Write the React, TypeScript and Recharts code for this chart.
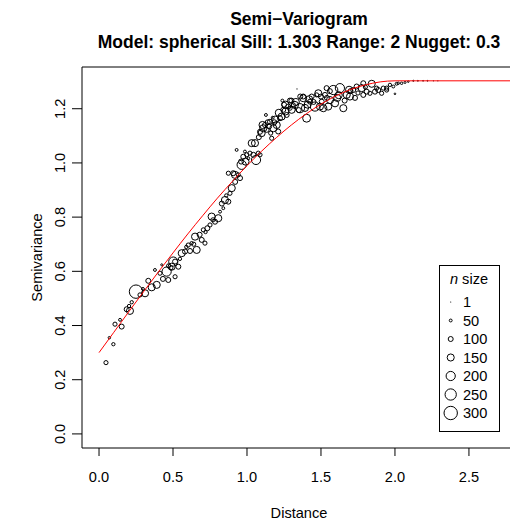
import { ReferenceArea, Scatter, ScatterChart, XAxis, YAxis } from 'recharts'

document.body.style.margin = '0'

const FONT = '"Liberation Sans", Arial, Helvetica, sans-serif'

const titleLines = ['Semi\u2212Variogram', 'Model: spherical Sill: 1.303 Range: 2 Nugget: 0.3']

// empirical semivariogram: lag distance, semivariance, number of pairs
const distance = [
  0.047, 0.070, 0.097, 0.108, 0.142, 0.153, 0.187, 0.203, 0.221, 0.209,
  0.250, 0.277, 0.311, 0.297, 0.333, 0.356, 0.378, 0.390, 0.412, 0.424,
  0.432, 0.457, 0.468, 0.486, 0.502, 0.514, 0.536, 0.547, 0.559, 0.581,
  0.603, 0.626, 0.615, 0.649, 0.660, 0.694, 0.705, 0.716, 0.732, 0.750,
  0.761, 0.784, 0.806, 0.818, 0.840, 0.851, 0.874, 0.885, 0.897, 0.874,
  0.907, 0.919, 0.941, 0.953, 0.930, 0.964, 0.975, 0.986, 0.998, 1.009,
  1.020, 1.032, 1.043, 1.054, 1.061, 1.076, 1.088, 1.099, 1.110, 1.122,
  1.133, 1.128, 1.155, 1.167, 1.174, 1.178, 1.201, 1.211, 1.223, 1.234,
  1.239, 1.245, 1.268, 1.279, 1.291, 1.302, 1.313, 1.324, 1.338, 1.358,
  1.380, 1.403, 1.392, 1.426, 1.437, 1.459, 1.471, 1.482, 1.505, 1.516,
  1.527, 1.538, 1.549, 1.561, 1.583, 1.595, 1.628, 1.651, 1.674, 1.696,
  1.718, 1.741, 1.750, 1.775, 1.786, 1.809, 1.831, 1.843, 1.865, 1.876,
  1.887, 1.910, 1.921, 1.944, 1.966, 1.989, 2.000, 2.011, 2.022, 2.045,
  2.068, 2.090, 2.124, 2.155, 2.190, 2.220, 2.260, 2.290,
  1.140, 1.190, 1.250, 1.330, 1.360, 1.420, 1.450, 1.500, 1.610, 1.700,
  1.160, 1.260, 1.300, 1.350, 1.410, 1.540, 1.660, 1.800, 0.960, 1.080,
  0.514, 0.491, 0.470, 0.590, 0.640, 0.680, 0.720, 0.770, 0.830, 0.860,
  0.920, 0.990, 1.088, 1.105, 1.150, 1.185, 1.215, 1.260, 1.290, 1.380,
  1.493, 1.560, 1.620, 1.690, 1.786, 1.944, 1.730,
]
const semivariance = [
  0.263, 0.355, 0.331, 0.405, 0.421, 0.396, 0.460, 0.472, 0.486, 0.454,
  0.525, 0.513, 0.519, 0.535, 0.565, 0.541, 0.605, 0.550, 0.593, 0.624,
  0.572, 0.599, 0.568, 0.613, 0.636, 0.580, 0.617, 0.646, 0.667, 0.673,
  0.697, 0.704, 0.675, 0.728, 0.679, 0.716, 0.753, 0.704, 0.759, 0.771,
  0.802, 0.783, 0.796, 0.820, 0.833, 0.863, 0.857, 0.888, 0.907, 0.962,
  0.962, 0.956, 0.956, 0.944, 1.048, 0.993, 1.023, 1.042, 1.030, 1.017,
  1.036, 1.073, 1.030, 1.073, 1.011, 1.036, 1.030, 1.110, 1.128, 1.140,
  1.122, 1.177, 1.152, 1.091, 1.167, 1.128, 1.140, 1.116, 1.165, 1.171,
  1.230, 1.196, 1.177, 1.208, 1.202, 1.196, 1.214, 1.214, 1.273, 1.202,
  1.239, 1.165, 1.203, 1.226, 1.245, 1.208, 1.251, 1.257, 1.226, 1.202,
  1.251, 1.276, 1.208, 1.232, 1.269, 1.220, 1.276, 1.202, 1.251, 1.245,
  1.269, 1.282, 1.258, 1.276, 1.251, 1.263, 1.257, 1.292, 1.263, 1.276,
  1.269, 1.257, 1.276, 1.276, 1.288, 1.282, 1.255, 1.292, 1.294, 1.294,
  1.297, 1.300, 1.303, 1.303, 1.303, 1.303, 1.303, 1.303,
  1.150, 1.160, 1.215, 1.225, 1.245, 1.235, 1.225, 1.245, 1.240, 1.265,
  1.110, 1.190, 1.230, 1.195, 1.215, 1.240, 1.230, 1.280, 1.005, 1.095,
  0.636, 0.617, 0.620, 0.690, 0.700, 0.735, 0.745, 0.790, 0.850, 0.880,
  0.930, 1.005, 1.115, 1.140, 1.135, 1.150, 1.185, 1.215, 1.230, 1.245,
  1.208, 1.265, 1.250, 1.270, 1.294, 1.269, 1.240,
]
const pairCount = [
  80, 40, 60, 80, 50, 100, 100, 60, 60, 150,
  300, 80, 150, 50, 100, 150, 50, 150, 80, 30,
  100, 200, 100, 80, 200, 80, 100, 60, 150, 100,
  80, 60, 100, 150, 150, 100, 80, 80, 100, 80,
  150, 100, 150, 50, 50, 150, 100, 80, 150, 80,
  100, 150, 80, 100, 50, 200, 100, 50, 80, 50,
  80, 150, 100, 150, 200, 80, 80, 150, 150, 100,
  100, 50, 100, 80, 50, 150, 150, 100, 100, 150,
  50, 100, 100, 100, 80, 150, 80, 150, 1, 200,
  150, 170, 150, 100, 100, 200, 80, 150, 100, 150,
  100, 100, 150, 150, 200, 150, 200, 150, 150, 150,
  100, 100, 80, 150, 100, 100, 80, 150, 100, 80,
  100, 80, 80, 80, 60, 50, 20, 50, 40, 40,
  30, 20, 10, 5, 3, 2, 1, 1,
  100, 150, 100, 150, 100, 150, 100, 100, 150, 100,
  80, 150, 100, 100, 150, 100, 100, 80, 100, 100,
  100, 150, 80, 60, 80, 100, 60, 80, 100, 60,
  100, 150, 100, 150, 100, 100, 150, 150, 100, 100,
  150, 100, 150, 150, 100, 80, 100,
]

// fitted spherical model
const modelDistance = [
  0, 0.1, 0.2, 0.3, 0.4, 0.5, 0.6, 0.7, 0.8, 0.9, 1.0,
  1.1, 1.2, 1.3, 1.4, 1.5, 1.6, 1.7, 1.8, 1.9, 2.0, 2.8,
]
const modelGamma = [
  0.300, 0.375, 0.450, 0.524, 0.597, 0.668, 0.738, 0.805, 0.870, 0.931, 0.990,
  1.044, 1.094, 1.140, 1.181, 1.217, 1.247, 1.271, 1.288, 1.299, 1.303, 1.303,
]

const xTicks = [0, 0.5, 1.0, 1.5, 2.0, 2.5]
const yTicks = [0, 0.2, 0.4, 0.6, 0.8, 1.0, 1.2]
const legendCounts = [1, 50, 100, 150, 200, 250, 300]

const X_DOMAIN: [number, number] = [-0.115, 2.818]
const Y_DOMAIN: [number, number] = [-0.052, 1.354]

const points = distance.map((d, i) => ({ x: d, y: semivariance[i], n: pairCount[i] }))
const model = modelDistance.map((d, i) => ({ x: d, y: modelGamma[i] }))

function radius(n: number) {
  return 0.4 + n * 0.021
}

function Bubble({ cx, cy, n }: { cx: number; cy: number; n: number }) {
  if (n <= 1) return <circle cx={cx} cy={cy} r={0.6} fill="#000" />
  return <circle cx={cx} cy={cy} r={radius(n)} fill="none" stroke="#000" strokeWidth={1} />
}

function PointShape(props: any) {
  const { cx, cy, payload } = props
  if (cx == null || cy == null) return <g />
  return <Bubble cx={cx} cy={cy} n={payload.n} />
}

function YTick(props: any) {
  const { x, y, payload } = props
  return (
    <text
      x={x}
      y={y}
      transform={`rotate(-90 ${x} ${y})`}
      textAnchor="middle"
      fontSize={14.6}
      fontFamily={FONT}
      fill="#000"
    >
      {Number(payload.value).toFixed(1)}
    </text>
  )
}

export default function App() {
  return (
    <div style={{ position: 'relative', width: 510, height: 522, overflow: 'hidden', background: '#fff' }}>
      <ScatterChart width={526} height={522} margin={{ top: 67, right: 10, bottom: 0, left: 0 }}>
        <XAxis
          type="number"
          dataKey="x"
          domain={X_DOMAIN}
          ticks={xTicks}
          allowDataOverflow
          tickFormatter={(v: number) => v.toFixed(1)}
          tick={{ fill: '#000', fontSize: 14.6, fontFamily: FONT }}
          tickLine={{ stroke: '#000' }}
          axisLine={false}
          tickSize={8}
          tickMargin={16}
          height={74}
          label={{
            value: 'Distance',
            content: ({ viewBox }: any) => (
              <text
                x={viewBox.x + viewBox.width / 2}
                y={viewBox.y + 69.5}
                textAnchor="middle"
                fontSize={14.6}
                fontFamily={FONT}
                fill="#000"
              >
                Distance
              </text>
            ),
          }}
        />
        <YAxis
          type="number"
          dataKey="y"
          domain={Y_DOMAIN}
          ticks={yTicks}
          allowDataOverflow
          tick={<YTick />}
          tickLine={{ stroke: '#000' }}
          axisLine={false}
          tickSize={10}
          tickMargin={7}
          width={82}
          label={{
            value: 'Semivariance',
            content: ({ viewBox }: any) => {
              const cy = viewBox.y + viewBox.height / 2
              return (
                <text
                  x={42}
                  y={cy}
                  transform={`rotate(-90 42 ${cy})`}
                  textAnchor="middle"
                  fontSize={14.6}
                  fontFamily={FONT}
                  fill="#000"
                >
                  Semivariance
                </text>
              )
            },
          }}
        />
        <Scatter data={points} shape={<PointShape />} isAnimationActive={false} />
        <Scatter
          data={model}
          line={{ stroke: '#ff0000', strokeWidth: 1 }}
          lineJointType="monotoneX"
          shape={() => <g />}
          isAnimationActive={false}
        />
        <ReferenceArea
          x1={X_DOMAIN[0]}
          x2={X_DOMAIN[1]}
          y1={Y_DOMAIN[0]}
          y2={Y_DOMAIN[1]}
          fill="none"
          stroke="#000"
          strokeWidth={1}
          ifOverflow="visible"
        />
      </ScatterChart>

      <svg
        width={510}
        height={522}
        style={{ position: 'absolute', left: 0, top: 0, pointerEvents: 'none' }}
      >
        <text x={299} y={25} textAnchor="middle" fontSize={17.5} fontWeight="bold" fontFamily={FONT}>
          {titleLines[0]}
        </text>
        <text x={299} y={48} textAnchor="middle" fontSize={17.5} fontWeight="bold" fontFamily={FONT}>
          {titleLines[1]}
        </text>

        <rect x={439.5} y={265.5} width={60} height={166} fill="#fff" stroke="#000" strokeWidth={1} />
        <text x={469} y={284} textAnchor="middle" fontSize={14.6} fontFamily={FONT}>
          <tspan fontStyle="italic">n</tspan> size
        </text>
        {legendCounts.map((n, i) => {
          const cy = 302 + i * 18.5
          return (
            <g key={n}>
              <Bubble cx={450.7} cy={cy} n={n} />
              <text x={463} y={cy + 5.2} fontSize={14.6} fontFamily={FONT}>
                {n}
              </text>
            </g>
          )
        })}
      </svg>
    </div>
  )
}
